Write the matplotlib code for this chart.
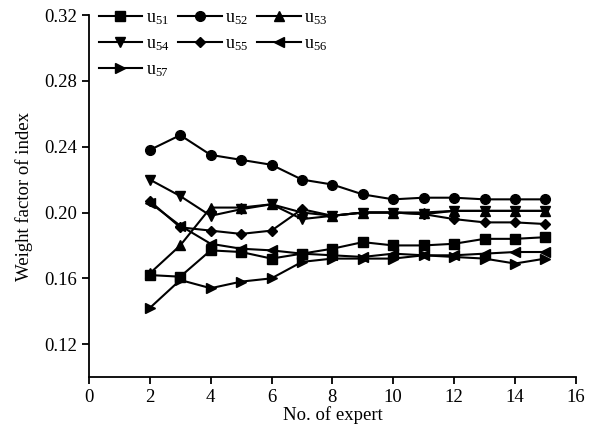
import matplotlib.pyplot as plt

# Dados (peso de cada índice por número de especialistas)
experts = [2, 3, 4, 5, 6, 7, 8, 9, 10, 11, 12, 13, 14, 15]
u51 = [0.162, 0.161, 0.177, 0.176, 0.172, 0.175, 0.178, 0.182, 0.180, 0.180, 0.181, 0.184, 0.184, 0.185]
u52 = [0.238, 0.247, 0.235, 0.232, 0.229, 0.220, 0.217, 0.211, 0.208, 0.209, 0.209, 0.208, 0.208, 0.208]
u53 = [0.163, 0.180, 0.203, 0.203, 0.205, 0.200, 0.198, 0.200, 0.200, 0.200, 0.201, 0.201, 0.201, 0.201]
u54 = [0.220, 0.210, 0.198, 0.202, 0.205, 0.196, 0.198, 0.200, 0.200, 0.199, 0.201, 0.201, 0.201, 0.201]
u55 = [0.207, 0.191, 0.189, 0.187, 0.189, 0.202, 0.198, 0.200, 0.200, 0.199, 0.196, 0.194, 0.194, 0.193]
u56 = [0.206, 0.192, 0.181, 0.178, 0.177, 0.175, 0.174, 0.173, 0.175, 0.174, 0.174, 0.175, 0.176, 0.176]
u57 = [0.142, 0.159, 0.154, 0.158, 0.160, 0.170, 0.172, 0.172, 0.172, 0.174, 0.173, 0.172, 0.169, 0.172]

series = [
    (u51, 's', r'u$_{\mathrm{51}}$'),
    (u52, 'o', r'u$_{\mathrm{52}}$'),
    (u53, '^', r'u$_{\mathrm{53}}$'),
    (u54, 'v', r'u$_{\mathrm{54}}$'),
    (u55, 'D', r'u$_{\mathrm{55}}$'),
    (u56, '<', r'u$_{\mathrm{56}}$'),
    (u57, '>', r'u$_{\mathrm{57}}$'),
]

plt.rcParams['font.family'] = 'Liberation Serif'
plt.rcParams['mathtext.fontset'] = 'custom'
plt.rcParams['mathtext.rm'] = 'Liberation Serif'
plt.rcParams['mathtext.it'] = 'Liberation Serif:italic'

fig = plt.figure(figsize=(5.93, 4.29), dpi=100)
ax = fig.add_axes([0.150, 0.121, 0.821, 0.844])

for vals, mk, lab in series:
    ms = 5.5 if mk == 'D' else 7
    ax.plot(experts, vals, marker=mk, markersize=ms, color='black',
            linewidth=1.5, label=lab)

ax.set_xlim(0, 16)
ax.set_ylim(0.10, 0.32)
ax.set_xticks(range(0, 17, 2))
ax.set_yticks([0.12, 0.16, 0.20, 0.24, 0.28, 0.32])
ax.set_yticklabels(['0.12', '0.16', '0.20', '0.24', '0.28', '0.32'])
ax.spines['top'].set_visible(False)
ax.spines['right'].set_visible(False)
for s in ['left', 'bottom']:
    ax.spines[s].set_linewidth(1.3)
ax.tick_params(direction='out', length=5, width=1.3, labelsize=13.5, colors='black')

ax.set_xlabel('No. of expert', fontsize=13.5, labelpad=0)
ax.set_ylabel('Weight factor of index', fontsize=13.5, labelpad=8)

# legenda preenchida por linha: reordenar para o preenchimento por coluna
handles, labels = ax.get_legend_handles_labels()
order = [0, 3, 6, 1, 4, 2, 5]
ax.legend([handles[i] for i in order], [labels[i] for i in order],
          ncol=3, loc='upper left', bbox_to_anchor=(0.02, 1.015), frameon=False,
          fontsize=13, handlelength=2.4, handletextpad=0.2, columnspacing=0.5,
          labelspacing=0.45, borderaxespad=0, borderpad=0)

plt.savefig('out.png', dpi=100)
